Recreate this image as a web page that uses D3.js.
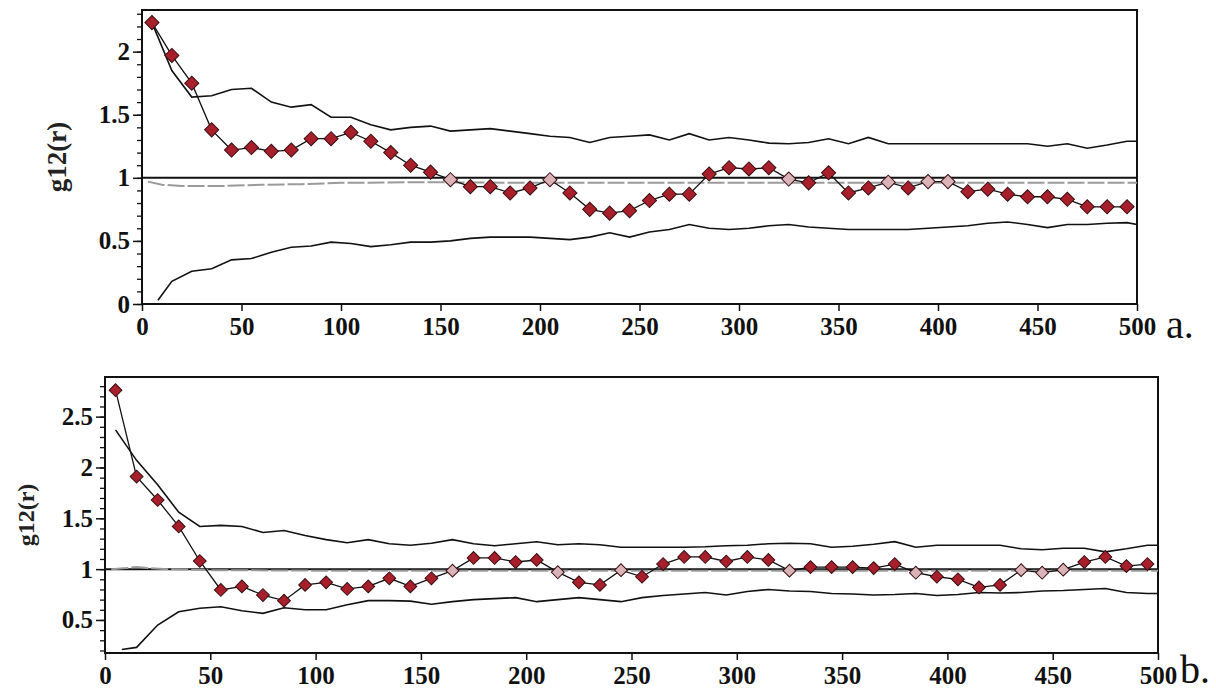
<!DOCTYPE html>
<html lang="en">
<head>
  <meta charset="UTF-8">
  <title>g12(r)</title>
  <style>
    body { margin: 0; background: #fff; }
    svg { display: block; }
  </style>
</head>
<body>
  <script src="https://d3js.org/d3.v7.min.js"></script>
  <div id="chart"></div>

  <script>
    // ---------- data ----------
    const rPts = [5, 15, 25, 35, 45, 55, 65, 75, 85, 95,
      105, 115, 125, 135, 145, 155, 165, 175, 185, 195,
      205, 215, 225, 235, 245, 255, 265, 275, 285, 295,
      305, 315, 325, 335, 345, 355, 365, 375, 385, 395,
      405, 415, 425, 435, 445, 455, 465, 475, 485, 495]
    const rEnvUp = rPts.concat([500])
    const rEnvLo = [8].concat(rPts.slice(1), [500])

    const xTicks = [0, 50, 100, 150, 200, 250, 300, 350, 400, 450, 500]

    // panel a
    const gA = [2.23, 1.97, 1.75, 1.38, 1.22, 1.24, 1.21, 1.22, 1.31, 1.31,
      1.36, 1.29, 1.20, 1.10, 1.045, 0.985, 0.93, 0.93, 0.88, 0.92,
      0.985, 0.88, 0.75, 0.72, 0.74, 0.82, 0.87, 0.87, 1.03, 1.08,
      1.07, 1.08, 0.99, 0.96, 1.04, 0.88, 0.92, 0.965, 0.92, 0.97,
      0.97, 0.89, 0.91, 0.87, 0.85, 0.85, 0.83, 0.77, 0.77, 0.77]
    const upA = [2.23, 1.85, 1.64, 1.65, 1.70, 1.71, 1.60, 1.56, 1.58, 1.48,
      1.48, 1.42, 1.38, 1.40, 1.41, 1.37, 1.38, 1.39, 1.37, 1.35,
      1.33, 1.32, 1.28, 1.32, 1.33, 1.34, 1.30, 1.35, 1.30, 1.32,
      1.30, 1.275, 1.27, 1.28, 1.31, 1.27, 1.32, 1.27, 1.27, 1.27,
      1.27, 1.27, 1.27, 1.27, 1.27, 1.25, 1.27, 1.235, 1.26, 1.29, 1.29]
    const loA = [0.03, 0.18, 0.26, 0.28, 0.35, 0.36, 0.41, 0.45, 0.46, 0.49,
      0.48, 0.455, 0.47, 0.49, 0.49, 0.50, 0.52, 0.53, 0.53, 0.53,
      0.52, 0.51, 0.53, 0.565, 0.53, 0.57, 0.59, 0.63, 0.60, 0.59,
      0.60, 0.62, 0.63, 0.61, 0.60, 0.59, 0.59, 0.59, 0.59, 0.60,
      0.61, 0.62, 0.64, 0.65, 0.63, 0.605, 0.63, 0.63, 0.64, 0.645, 0.63]
    const rMeanA = [3, 10, 20, 40, 60, 80, 100, 140, 200, 300, 400, 500]
    const meanA = [0.97, 0.945, 0.935, 0.935, 0.945, 0.95, 0.96, 0.965, 0.96, 0.96, 0.96, 0.96]
    const yTicksA = [0, 0.5, 1, 1.5, 2]

    // panel b
    const gB = [2.76, 1.91, 1.68, 1.42, 1.08, 0.795, 0.83, 0.745, 0.69, 0.845,
      0.87, 0.805, 0.83, 0.91, 0.83, 0.91, 0.985, 1.11, 1.11, 1.07,
      1.09, 0.97, 0.87, 0.845, 0.99, 0.925, 1.05, 1.12, 1.12, 1.075,
      1.12, 1.09, 0.985, 1.02, 1.02, 1.02, 1.01, 1.05, 0.965, 0.925,
      0.90, 0.82, 0.845, 0.99, 0.965, 0.995, 1.07, 1.12, 1.03, 1.05]
    const upB = [2.37, 2.07, 1.83, 1.56, 1.42, 1.43, 1.42, 1.36, 1.38, 1.33,
      1.29, 1.26, 1.29, 1.25, 1.235, 1.255, 1.29, 1.25, 1.23, 1.25,
      1.27, 1.24, 1.25, 1.24, 1.215, 1.215, 1.215, 1.215, 1.22, 1.23,
      1.235, 1.25, 1.255, 1.25, 1.215, 1.225, 1.245, 1.27, 1.215, 1.235,
      1.235, 1.235, 1.235, 1.20, 1.19, 1.205, 1.205, 1.17, 1.20, 1.235, 1.235]
    const loB = [0.21, 0.23, 0.45, 0.58, 0.615, 0.63, 0.59, 0.565, 0.62, 0.60,
      0.60, 0.65, 0.69, 0.69, 0.685, 0.655, 0.68, 0.70, 0.71, 0.72,
      0.68, 0.70, 0.72, 0.70, 0.68, 0.72, 0.74, 0.755, 0.77, 0.745,
      0.78, 0.80, 0.785, 0.78, 0.76, 0.755, 0.745, 0.75, 0.76, 0.74,
      0.75, 0.77, 0.765, 0.77, 0.785, 0.79, 0.80, 0.81, 0.77, 0.76, 0.76]
    const rMeanB = [3, 10, 15, 20, 30, 50, 100, 200, 300, 400, 500]
    const meanB = [1.0, 1.01, 1.02, 1.01, 1.0, 0.99, 0.985, 0.985, 0.985, 0.985, 0.985]
    const yTicksB = [0.5, 1, 1.5, 2, 2.5]

    // ---------- drawing ----------
    const svg = d3.select('#chart')
      .append('svg')
      .attr('width', 1216)
      .attr('height', 693)

    const serif = '"Times New Roman", "Liberation Serif", serif'

    function drawPanel(p) {
      const x = d3.scaleLinear().domain([0, 500]).range([p.left, p.right])
      const y = d3.scaleLinear().domain(p.yDomain).range([p.bottom, p.top])

      const g = svg.append('g')

      // minor y ticks every 0.1
      const minor = d3.range(Math.ceil(p.yDomain[0] * 10), Math.floor(p.yDomain[1] * 10) + 1).map(i => i / 10)
      const minorAx = g.append('g')
        .attr('transform', `translate(${p.left},0)`)
        .call(d3.axisLeft(y).tickValues(minor).tickSize(5).tickSizeOuter(0).tickFormat(''))
      minorAx.select('.domain').remove()
      minorAx.selectAll('line').attr('stroke', '#111').attr('stroke-width', 1.3)

      const yAx = g.append('g')
        .attr('transform', `translate(${p.left},0)`)
        .call(d3.axisLeft(y).tickValues(p.yTicks).tickSize(9).tickPadding(3).tickSizeOuter(0).tickFormat(d => d))
      yAx.select('.domain').remove()
      yAx.selectAll('line').attr('stroke', '#111').attr('stroke-width', 1.5)
      yAx.selectAll('text')
        .style('font-family', serif).style('font-weight', 'bold').style('font-size', '25px').attr('fill', '#111')

      const xAx = g.append('g')
        .attr('transform', `translate(0,${p.bottom})`)
        .call(d3.axisBottom(x).tickValues(xTicks).tickSize(7).tickPadding(6).tickSizeOuter(0))
      xAx.select('.domain').remove()
      xAx.selectAll('line').attr('stroke', '#111').attr('stroke-width', 1.5)
      xAx.selectAll('text')
        .style('font-family', serif).style('font-weight', 'bold').style('font-size', '25px').attr('fill', '#111')

      // frame
      g.append('rect')
        .attr('x', p.left).attr('y', p.top)
        .attr('width', p.right - p.left).attr('height', p.bottom - p.top)
        .attr('fill', 'none').attr('stroke', '#111').attr('stroke-width', 2)

      const line = d3.line().x(d => x(d[0])).y(d => y(d[1]))

      // reference line g = 1
      g.append('line')
        .attr('x1', x(0)).attr('x2', x(500)).attr('y1', y(1)).attr('y2', y(1))
        .attr('stroke', '#111').attr('stroke-width', 2)

      // mean of simulations (grey dashed)
      g.append('path')
        .datum(d3.zip(p.rMean, p.mean))
        .attr('d', line)
        .attr('fill', 'none').attr('stroke', '#9a9a9a').attr('stroke-width', 2)
        .attr('stroke-dasharray', '17,3')

      // envelopes
      g.append('path').datum(d3.zip(rEnvUp, p.up)).attr('d', line)
        .attr('fill', 'none').attr('stroke', '#111').attr('stroke-width', 1.6)
      g.append('path').datum(d3.zip(rEnvLo, p.lo)).attr('d', line)
        .attr('fill', 'none').attr('stroke', '#111').attr('stroke-width', 1.6)

      // observed g12(r)
      const obs = d3.zip(rPts, p.g)
      g.append('path').datum(obs).attr('d', line)
        .attr('fill', 'none').attr('stroke', '#111').attr('stroke-width', 1.3)

      // markers sitting on the grey mean line come out pale
      const pale = d => d[1] <= 1 && (y(d[1]) - y(1)) < 4.6

      g.selectAll('path.pt')
        .data(obs)
        .join('path')
        .attr('class', 'pt')
        .attr('d', d3.symbol(d3.symbolSquare, p.mark))
        .attr('transform', d => `translate(${x(d[0])},${y(d[1])}) rotate(45)`)
        .attr('fill', d => pale(d) ? '#d9b3b8' : '#a81f2c')
        .attr('stroke', '#3a0d10').attr('stroke-width', 1)

      // axis title
      g.append('text')
        .attr('transform', `translate(${p.titleX},${(p.top + p.bottom) / 2}) rotate(-90)`)
        .attr('text-anchor', 'middle')
        .attr('dy', '0.35em')
        .style('font-family', serif).style('font-weight', 'bold').style('font-size', p.titleSize + 'px')
        .attr('fill', '#222')
        .text('g12(r)')

      // panel letter
      g.append('text')
        .attr('x', p.letterX).attr('y', p.letterY)
        .style('font-family', serif).style('font-size', '40px')
        .attr('fill', '#111')
        .text(p.letter)
    }

    drawPanel({
      left: 142, right: 1137, top: 10, bottom: 304,
      yDomain: [0, 2.33], yTicks: yTicksA,
      g: gA, up: upA, lo: loA, rMean: rMeanA, mean: meanA,
      mark: 100, titleX: 57, titleSize: 27,
      letter: 'a.', letterX: 1166, letterY: 338
    })

    drawPanel({
      left: 105, right: 1158, top: 377, bottom: 653,
      yDomain: [0.175, 2.89], yTicks: yTicksB,
      g: gB, up: upB, lo: loB, rMean: rMeanB, mean: meanB,
      mark: 82, titleX: 26, titleSize: 24,
      letter: 'b.', letterX: 1180, letterY: 683
    })
  </script>
</body>
</html>
